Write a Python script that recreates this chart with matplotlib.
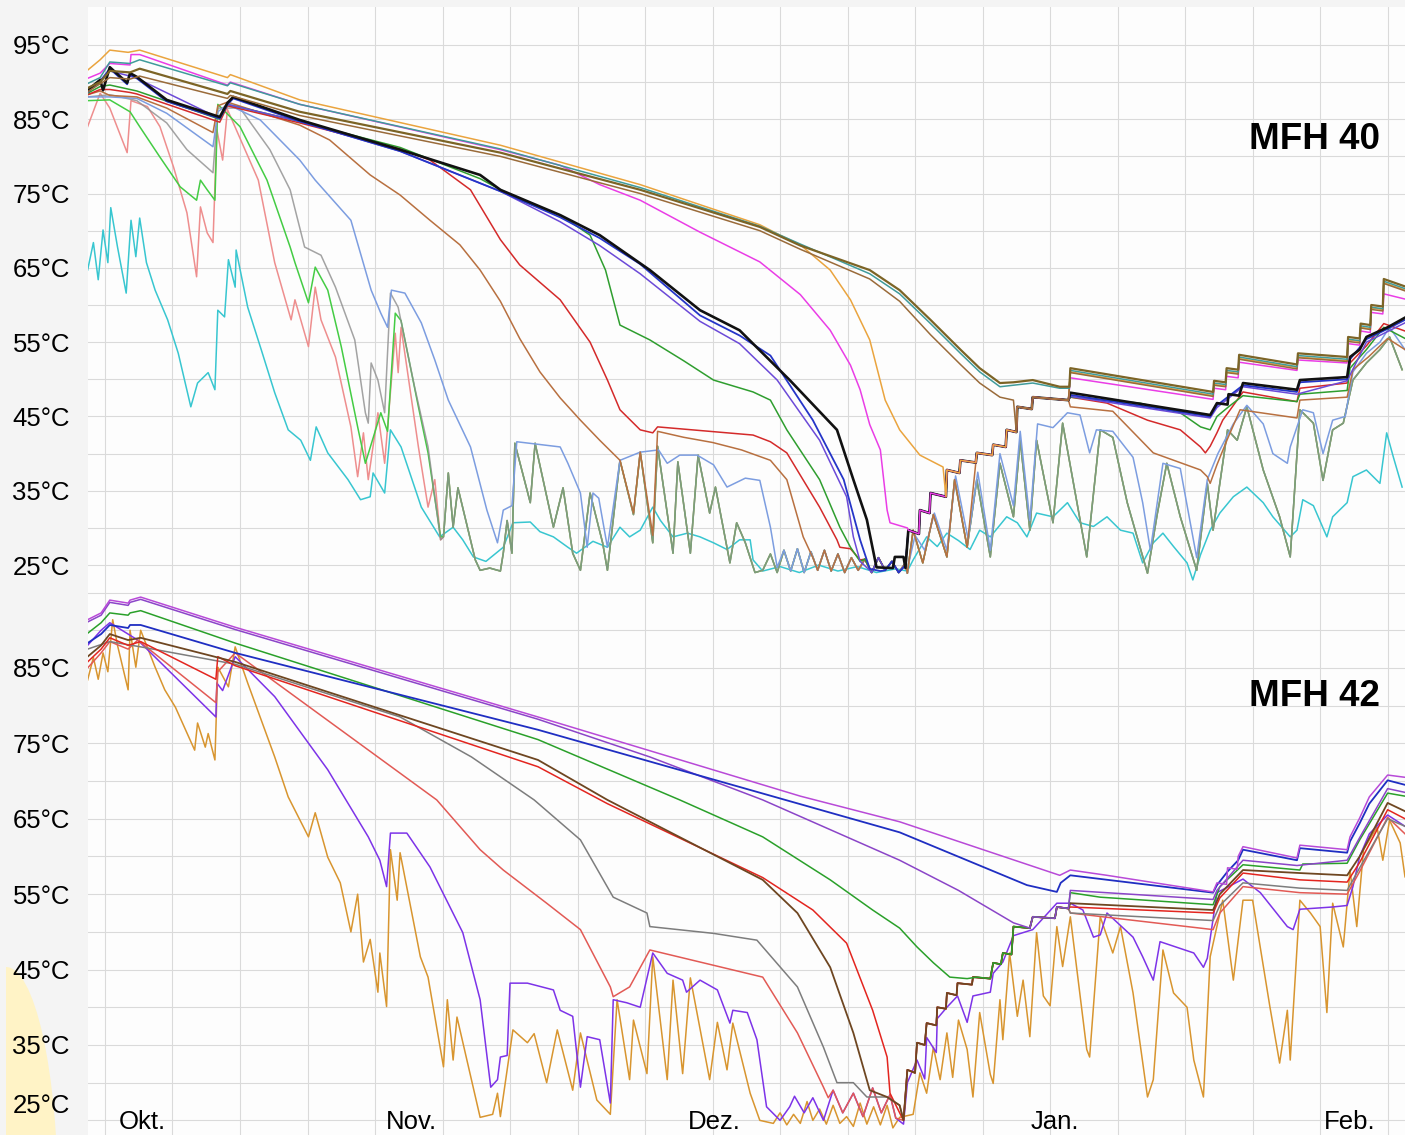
import matplotlib
matplotlib.use("Agg")
import numpy as np
import matplotlib.pyplot as plt
from matplotlib.patches import Ellipse
from matplotlib.transforms import Bbox, TransformedBbox, blended_transform_factory

#____________________________________ MFH 40 (top panel), day / temperature pairs ____________________________________
cyan40_day = [-1.8, -1.2, -0.7, -0.2, 0.3, 0.6, 1.3, 2.2, 2.7, 3.2, 3.6, 4.3, 5.2, 6.5, 7.6, 8.9, 9.6, 10.7, 11.4, 11.7,
              12.4, 12.8, 13.5, 13.6, 14.8, 16.2, 17.6, 19.0, 20.3, 21.3, 21.9, 23.1, 25.2, 26.5, 27.5, 27.8, 29.0, 29.6,
              30.7, 32.8, 34.7, 36.1, 37.1, 38.2, 39.5, 41.3, 42.3, 44.1, 45.1, 46.5, 48.0, 48.9, 50.6, 52.1, 53.4, 54.4,
              55.5, 56.8, 57.6, 58.9, 60.4, 61.7, 63.1, 64.5, 65.8, 66.9, 67.2, 68.2, 70.0, 72.0, 74.0, 76.0, 78.0, 80.0,
              82.0, 83.2, 83.8, 85.2, 86.3, 87.3, 88.5, 89.7, 90.7, 91.8, 93.5, 94.6, 95.6, 96.6, 98.3, 99.8, 101.1,
              102.5, 103.9, 105.3, 106.6, 107.6, 108.7, 109.7, 110.8, 112.2, 112.8, 113.6, 114.6, 115.6, 117.0, 118.4,
              120.1, 121.1, 122.9, 123.6, 124.2, 125.3, 126.7, 127.3, 128.8, 129.4, 130.8, 132.2, 132.9, 133.6, 134.5]
cyan40_temp = [64.7, 68.4, 63.4, 70.1, 65.7, 73.1, 67.8, 61.6, 71.4, 66.5, 71.7, 65.7, 62.0, 58.0, 53.5, 46.3, 49.5, 50.9,
               48.6, 59.3, 58.4, 66.1, 62.4, 67.4, 59.7, 54.0, 48.2, 43.2, 41.8, 39.1, 43.6, 40.1, 36.5, 33.8, 34.2, 37.4,
               34.7, 43.2, 40.9, 32.8, 28.8, 30.1, 28.4, 26.1, 25.5, 27.4, 30.7, 30.8, 29.5, 28.8, 27.4, 26.6, 28.2, 27.4,
               30.1, 28.8, 29.7, 32.8, 31.0, 28.8, 29.3, 28.8, 28.0, 27.1, 28.4, 28.4, 25.7, 24.2, 24.8, 24.0, 25.0, 24.2,
               24.8, 24.0, 24.5, 24.2, 25.7, 28.8, 27.5, 29.3, 28.3, 27.1, 29.7, 28.8, 31.5, 30.7, 28.8, 32.0, 31.5, 33.4,
               30.7, 30.2, 31.5, 29.7, 29.3, 25.3, 28.0, 29.3, 27.5, 25.3, 23.0, 26.4, 29.7, 32.0, 34.2, 35.5, 33.4, 31.5,
               28.8, 29.7, 33.8, 33.0, 28.8, 31.5, 33.4, 36.9, 37.8, 36.0, 42.8, 39.5, 35.5]

# shared sawtooth of the storage tanks that already ran cold
saw40_day = [34.8, 35.1, 35.6, 36.1, 36.6, 38.4, 38.9, 39.9, 41.0, 41.3, 41.7, 42.2, 42.5, 44.1, 44.6, 46.5, 47.5, 48.5,
             49.3, 50.3, 51.6, 52.1, 53.4, 54.8, 55.5, 56.8, 57.3, 58.9, 59.4, 60.7, 61.5, 62.7, 63.3, 64.8, 65.5, 66.4,
             67.4, 68.2, 69.0, 69.7, 70.4, 71.1, 71.8, 72.5, 73.2, 73.9, 74.6, 75.3, 76.0, 76.7, 77.4, 78.1, 78.8, 79.5,
             80.2, 80.9, 81.6, 82.3, 83.0, 83.2, 83.8, 84.8, 85.9, 87.3, 88.1, 89.4, 90.4, 91.8, 92.8, 94.2, 94.9, 95.9,
             96.6, 98.3, 99.3, 101.8, 103.2, 104.5, 106.0, 108.1, 109.1, 110.1, 111.5, 113.2, 114.3, 114.9, 116.4, 117.4,
             118.4, 120.1, 121.8, 122.9, 123.9, 125.3, 126.3, 127.3, 128.4, 129.4, 130.8, 132.2, 133.2, 134.5]
saw40_temp = [28.4, 28.8, 37.4, 30.1, 35.4, 25.7, 24.3, 24.6, 24.2, 26.6, 31.0, 26.6, 41.4, 33.4, 41.4, 30.1, 35.4, 26.6,
              24.3, 34.7, 28.0, 24.3, 39.1, 31.8, 40.2, 28.0, 41.0, 26.6, 38.9, 26.6, 39.8, 32.0, 35.5, 25.3, 30.7, 28.0,
              24.0, 24.3, 26.5, 24.0, 27.0, 24.2, 27.2, 24.0, 26.8, 24.3, 27.0, 24.2, 26.5, 24.0, 26.0, 24.3, 25.8, 24.0,
              26.0, 24.3, 25.5, 24.0, 25.3, 23.9, 29.7, 25.3, 31.8, 26.1, 36.5, 27.4, 36.5, 26.1, 38.7, 31.5, 41.8, 29.7,
              41.8, 30.7, 44.1, 26.1, 43.2, 42.2, 33.4, 23.9, 31.8, 38.7, 31.5, 24.3, 36.0, 29.7, 43.2, 41.8, 46.3, 37.8,
              31.5, 26.1, 45.9, 44.1, 36.4, 43.2, 44.1, 49.9, 52.2, 54.0, 55.7, 51.3]

# shared recharge staircase in late December
stair40_day = [83.0, 83.3, 84.4, 84.5, 85.5, 85.6, 87.2, 87.3, 88.6, 88.7, 90.3, 90.4, 92.0, 92.1, 93.4, 93.5, 94.5, 94.6,
               96.1, 96.2, 99.9]
stair40_temp = [25.0, 29.7, 29.2, 32.4, 32.0, 34.7, 34.2, 37.8, 37.4, 39.1, 38.8, 40.1, 39.8, 41.2, 40.9, 43.2, 42.9, 46.3,
                46.0, 47.6, 47.2]

salmon40_day = [-1.8, -0.5, 0.5, 2.3, 2.7, 4.4, 5.7, 7.1, 8.5, 9.5, 9.9, 10.6, 11.2, 11.6, 12.2, 12.7, 15.9, 17.6, 19.3,
                19.7, 21.1, 21.8, 22.4, 23.9, 25.5, 26.2, 26.8, 27.3, 28.3, 29.0, 30.1, 30.4, 30.7, 32.5, 33.5, 34.2, 34.8]
salmon40_temp = [84.0, 88.5, 86.5, 80.5, 87.5, 86.7, 84.0, 78.6, 72.4, 63.8, 73.2, 69.7, 68.4, 83.6, 79.5, 86.3, 76.8,
                 65.7, 58.0, 60.7, 54.4, 62.4, 58.0, 53.0, 43.6, 36.9, 42.8, 36.5, 45.5, 38.7, 56.2, 50.9, 57.0, 40.9,
                 32.8, 36.5, 28.4]

lightgreen40_day = [-1.8, 0.5, 2.6, 3.6, 5.7, 7.8, 9.5, 9.9, 10.6, 11.4, 11.7, 14.0, 16.8, 19.2, 19.7, 21.1, 21.8, 23.1,
                    24.5, 26.2, 27.0, 28.6, 29.3, 30.1, 30.7, 32.5, 33.5, 34.2, 34.8]
lightgreen40_temp = [87.5, 87.6, 86.0, 84.0, 79.9, 75.9, 74.1, 76.8, 75.5, 74.1, 87.0, 84.0, 76.8, 67.8, 65.7, 60.3, 65.1,
                     62.0, 54.4, 43.6, 38.7, 45.5, 43.0, 58.9, 57.9, 46.3, 40.1, 34.0, 28.8]

gray40_day = [-1.8, 0.5, 3.3, 6.4, 8.5, 11.2, 11.7, 14.0, 17.1, 19.2, 20.7, 22.4, 23.9, 25.9, 27.0, 27.3, 27.6, 28.3,
              29.0, 29.6, 30.4, 32.1, 33.5, 34.8]
gray40_temp = [88.0, 88.3, 87.5, 84.5, 80.9, 77.8, 86.5, 86.5, 80.9, 75.5, 67.8, 66.7, 62.4, 55.3, 45.5, 44.1, 52.2, 49.9,
               45.5, 61.6, 59.7, 49.0, 40.9, 28.4]

lightblue40_day = [-1.8, 0.5, 3.3, 6.4, 11.2, 11.7, 12.7, 16.1, 20.2, 21.8, 25.5, 27.6, 28.6, 29.3, 29.7, 31.1, 32.8,
                   34.2, 35.6, 37.9, 39.6, 40.7, 41.3, 42.2, 42.7, 47.2, 48.0, 49.3, 50.0, 50.6, 51.2, 52.1, 53.4, 55.5,
                   57.4, 58.3, 59.6, 61.4, 63.1, 64.5, 66.4, 67.9, 69.0, 69.7]
lightblue40_temp = [88.0, 88.0, 87.8, 85.8, 81.3, 86.0, 87.0, 84.9, 79.5, 76.8, 71.4, 62.0, 58.9, 57.0, 62.0, 61.6, 57.6,
                    52.6, 47.2, 40.9, 32.4, 28.0, 32.4, 33.0, 41.6, 40.9, 38.7, 34.7, 27.4, 34.7, 34.0, 27.4, 39.1, 40.2,
                    40.5, 38.7, 39.8, 39.8, 38.5, 35.5, 36.7, 36.4, 30.1, 24.7]
lb40post_day = [83.3, 84.0, 85.0, 86.0, 87.3, 88.2, 89.5, 90.5, 91.8, 92.8, 94.2, 94.9, 95.9, 96.7, 98.3, 99.8, 101.1,
                102.1, 102.8, 104.5, 106.6, 107.6, 108.4, 109.7, 111.5, 113.2, 114.3, 115.4, 117.0, 118.4, 120.1, 121.1,
                122.6, 122.9, 124.2, 125.3, 126.3, 127.3, 128.6, 129.4, 130.8, 132.2, 133.2, 134.8]
lb40post_temp = [25.0, 29.0, 27.0, 32.0, 27.0, 37.0, 28.5, 37.5, 27.0, 40.0, 33.0, 43.0, 31.0, 44.0, 43.5, 45.5, 45.2,
                 40.1, 43.2, 43.0, 39.5, 33.4, 27.0, 38.7, 38.0, 26.0, 36.5, 40.0, 44.0, 46.5, 44.0, 40.0, 38.7, 40.9,
                 45.9, 45.5, 40.0, 44.5, 45.0, 51.0, 53.5, 55.0, 57.0, 54.0]

sienna40_day = [-1.8, -0.5, 0.5, 3.3, 6.4, 11.2, 11.7, 12.7, 20.2, 23.3, 27.5, 30.6, 33.7, 36.8, 38.9, 41.0, 43.0, 45.1,
                47.2, 49.3, 51.3, 53.4, 54.8, 55.5, 56.8, 57.3, 60.0, 63.0, 66.0, 69.0, 70.7, 72.4, 73.4]
sienna40_temp = [88.3, 88.8, 88.2, 88.0, 86.5, 83.2, 86.8, 87.3, 84.2, 82.2, 77.5, 74.8, 71.4, 68.1, 64.7, 60.5, 55.5,
                 51.0, 47.5, 44.5, 41.8, 39.1, 32.0, 40.2, 29.0, 43.0, 42.2, 41.5, 40.5, 39.1, 36.5, 28.8, 26.0]
sn40post_day = [100.1, 104.5, 108.7, 113.6, 114.3, 114.6, 115.3, 116.4, 117.7, 123.6, 123.9, 128.8, 129.4, 131.0, 133.0,
                134.8]
sn40post_temp = [46.3, 45.7, 40.1, 37.8, 36.9, 36.0, 38.5, 42.0, 45.9, 44.8, 47.2, 47.6, 51.3, 53.0, 55.5, 54.0]

red40_day = [-1.8, -0.5, 0.5, 2.6, 3.3, 11.9, 12.7, 20.2, 30.6, 33.7, 37.9, 41.0, 43.0, 47.2, 50.3, 52.1, 53.4, 55.5,
             56.8, 57.3, 67.2, 69.0, 70.7, 74.1, 75.9, 76.2, 77.3, 78.3]
red40_temp = [88.3, 89.0, 89.0, 88.6, 88.4, 84.6, 86.8, 84.5, 81.0, 79.5, 75.5, 68.8, 65.4, 60.7, 55.0, 49.9, 45.9, 43.2,
              42.8, 43.6, 42.5, 41.6, 40.1, 32.8, 28.4, 27.4, 27.2, 25.7]
rd40post_day = [100.1, 103.9, 108.1, 111.5, 113.6, 114.1, 114.6, 115.3, 115.9, 118.0, 123.6, 123.9, 128.8, 129.1, 130.8,
                132.6, 134.8]
rd40post_temp = [47.6, 46.8, 44.5, 43.2, 40.9, 40.1, 41.0, 42.8, 44.5, 48.3, 47.0, 48.8, 49.5, 52.2, 54.5, 57.5, 56.5]

green40_day = [-1.8, -0.5, 0.5, 2.6, 3.3, 11.9, 12.7, 20.2, 30.6, 38.9, 43.0, 47.2, 50.3, 51.9, 53.4, 56.5, 60.0, 63.1,
               67.2, 69.0, 70.7, 74.1, 76.2, 77.3, 78.3]
green40_temp = [88.5, 89.4, 89.6, 89.0, 88.8, 85.0, 87.0, 84.7, 81.2, 77.0, 74.1, 72.1, 69.4, 64.7, 57.3, 55.3, 52.5,
                49.9, 48.3, 47.2, 43.2, 36.5, 30.1, 27.4, 25.5]
gr40post_day = [100.1, 107.3, 111.5, 113.6, 114.6, 115.3, 116.6, 118.0, 123.6, 123.9, 128.8, 129.1, 130.8, 132.6, 134.8]
gr40post_temp = [47.6, 46.8, 45.5, 43.6, 43.2, 45.0, 46.4, 47.8, 47.0, 48.0, 48.5, 51.5, 54.0, 57.0, 55.5]

violet40_day = [-1.8, 0.5, 2.6, 3.3, 11.9, 12.7, 20.2, 30.6, 41.0, 47.2, 51.3, 55.5, 61.7, 65.8, 69.7, 74.1, 76.9, 77.6,
                78.3, 79.3]
violet40_temp = [88.6, 91.5, 90.8, 90.5, 85.1, 87.0, 84.7, 80.7, 75.3, 71.2, 68.0, 64.2, 57.8, 54.8, 49.9, 41.8, 34.2,
                 28.8, 25.5, 24.3]
vi40post_day = [100.1, 114.6, 115.3, 118.0, 123.6, 128.8, 130.8, 134.8]
vi40post_temp = [47.7, 44.8, 46.2, 49.0, 48.0, 49.8, 55.0, 57.6]

blue40_day = [-1.8, -0.5, 0.5, 2.3, 2.6, 3.3, 6.4, 11.9, 12.7, 13.3, 20.2, 30.6, 41.0, 47.2, 51.3, 55.5, 61.7, 65.8,
              69.0, 73.4, 76.6, 78.3, 79.3, 80.4]
blue40_temp = [88.7, 90.1, 91.8, 89.7, 91.0, 90.5, 87.4, 85.1, 87.0, 87.8, 84.7, 80.7, 75.3, 71.8, 69.0, 65.5, 58.6, 55.9,
               53.2, 44.5, 36.5, 28.4, 24.5, 24.2]
bl40post_day = [100.1, 114.6, 115.3, 118.0, 123.6, 123.9, 128.8, 129.1, 130.8, 133.0, 134.8]
bl40post_temp = [47.9, 45.0, 46.5, 49.2, 48.3, 49.6, 50.0, 52.7, 55.4, 56.8, 58.0]

black40_day = [-1.8, -0.5, -0.2, 0.5, 2.3, 2.6, 3.3, 6.4, 11.9, 12.7, 13.3, 20.2, 30.6, 38.9, 41.0, 47.2, 51.3, 56.5,
               61.7, 65.8, 71.0, 75.9, 77.6, 79.0, 80.0, 81.7, 81.9, 82.8, 83.0]
black40_temp = [88.9, 90.3, 88.9, 92.0, 89.9, 91.2, 90.7, 87.6, 85.3, 87.2, 88.0, 84.9, 80.9, 77.5, 75.5, 72.1, 69.4,
                64.7, 59.3, 56.6, 49.9, 43.2, 36.5, 31.1, 24.7, 24.6, 26.1, 26.1, 24.6]
bk40post_day = [100.1, 114.6, 115.3, 116.4, 116.5, 117.6, 118.0, 123.6, 123.9, 128.8, 129.1, 130.1, 130.8, 133.0, 134.8]
bk40post_temp = [48.2, 45.2, 46.8, 46.6, 48.0, 47.8, 49.5, 48.6, 49.9, 50.3, 53.0, 54.0, 55.7, 57.0, 58.3]

magenta40_day = [-1.8, -0.5, 0.5, 2.6, 2.7, 3.6, 12.7, 13.0, 20.2, 41.0, 47.2, 51.3, 55.5, 61.7, 67.9, 72.1, 75.2, 77.3,
                 78.3, 79.3, 80.4, 81.1, 81.4, 83.2]
magenta40_temp = [90.5, 91.2, 92.5, 92.3, 93.7, 93.7, 89.6, 90.0, 87.0, 80.9, 78.8, 76.2, 74.1, 69.8, 65.8, 61.4, 56.6,
                  51.9, 48.6, 43.9, 40.5, 32.4, 30.7, 30.0]
mg40post_day = [100.1, 114.9, 115.0, 116.2, 116.3, 117.5, 117.6, 123.6, 123.7, 128.8, 128.9, 130.1, 130.2, 131.2, 131.3,
                132.5, 132.6, 134.8]
mg40post_temp = [50.2, 47.3, 48.8, 48.6, 50.4, 50.2, 52.3, 51.2, 52.6, 52.2, 54.8, 54.6, 56.5, 56.3, 59.0, 58.8, 61.5,
                 60.8]

orange40_day = [-1.8, -0.5, 0.5, 2.4, 3.6, 12.7, 13.0, 20.2, 41.0, 55.5, 61.7, 67.9, 70.0, 72.1, 75.2, 77.3, 79.3, 80.9,
                82.4, 84.5, 86.9]
orange40_temp = [91.6, 93.0, 94.3, 94.0, 94.3, 90.6, 91.0, 87.6, 81.5, 76.2, 73.5, 70.8, 69.4, 68.1, 64.7, 60.7, 55.3,
                 47.2, 43.2, 39.8, 38.2]
or40post_day = [100.1, 114.9, 115.0, 116.2, 116.3, 117.5, 117.6, 123.6, 123.7, 128.8, 128.9, 130.1, 130.2, 131.2, 131.3,
                132.5, 132.6, 134.8]
or40post_temp = [51.0, 47.8, 49.3, 49.1, 51.0, 50.8, 52.8, 51.6, 53.0, 52.5, 55.3, 55.1, 57.0, 56.8, 59.6, 59.4, 63.0,
                 62.0]

olive40_day = [-1.8, -0.5, 0.5, 2.6, 3.6, 12.7, 13.0, 20.2, 41.0, 55.5, 61.7, 67.9, 72.1, 79.3, 82.4, 85.6, 88.7, 90.7,
               92.8, 94.2, 96.2, 99.0, 100.0]
olive40_temp = [89.2, 90.0, 91.5, 91.3, 91.8, 88.4, 88.8, 86.0, 80.5, 75.5, 73.0, 70.5, 68.0, 64.7, 62.0, 58.0, 54.0,
                51.5, 49.5, 49.6, 49.9, 49.0, 49.0]
ol40post_day = [100.1, 114.9, 115.0, 116.2, 116.3, 117.5, 117.6, 123.6, 123.7, 128.8, 128.9, 130.1, 130.2, 131.2, 131.3,
                132.5, 132.6, 134.8]
ol40post_temp = [51.5, 48.3, 49.8, 49.6, 51.5, 51.3, 53.3, 52.0, 53.5, 53.0, 55.7, 55.5, 57.5, 57.3, 60.0, 59.8, 63.5,
                 62.5]

teal40_day = [-1.8, -0.5, 0.5, 2.6, 3.6, 12.7, 13.0, 20.2, 41.0, 55.5, 61.7, 67.9, 72.1, 79.3, 82.4, 85.6, 88.7, 90.7,
              92.8, 96.2, 99.0, 100.0]
teal40_temp = [89.8, 90.6, 92.7, 92.5, 93.0, 89.5, 89.9, 87.0, 81.0, 75.8, 73.2, 70.6, 68.2, 64.2, 61.5, 57.5, 53.5,
               51.0, 49.0, 49.5, 48.8, 48.8]
te40post_temp = [51.2, 48.0, 49.5, 49.3, 51.2, 51.0, 53.0, 51.7, 53.2, 52.7, 55.4, 55.2, 57.2, 57.0, 59.7, 59.5, 63.2,
                 62.2]

brown40_day = [-1.8, 0.5, 2.6, 3.6, 12.7, 13.0, 20.2, 41.0, 55.5, 61.7, 67.9, 72.1, 79.3, 82.4, 85.6, 88.7, 90.7, 92.8,
               94.2]
brown40_temp = [88.7, 90.6, 90.4, 90.8, 87.8, 88.2, 85.5, 80.0, 75.0, 72.5, 70.0, 67.5, 63.5, 60.5, 56.0, 52.0, 49.5,
                47.6, 47.2]
br40post_temp = [50.9, 47.7, 49.2, 49.0, 50.9, 50.7, 52.7, 51.4, 52.9, 52.4, 55.1, 54.9, 56.9, 56.7, 59.4, 59.2, 62.9,
                 61.9]

#____________________________________ MFH 42 (bottom panel) ____________________________________
orchid42_day = [-1.8, -0.4, 0.5, 2.4, 2.6, 3.7, 13.5, 44.9, 72.1, 82.4, 99.0, 100.1, 103.9, 114.9, 115.3, 116.3, 116.4,
                117.4, 117.5, 118.0, 123.6, 123.9, 128.8, 129.1, 130.1, 131.1, 133.0, 134.8]
orchid42_temp = [91.4, 92.3, 94.0, 93.6, 94.0, 94.4, 90.4, 78.5, 68.0, 64.6, 57.5, 58.2, 57.5, 55.3, 56.5, 56.3, 58.5,
                 58.3, 60.0, 61.3, 59.8, 61.5, 60.9, 62.6, 65.1, 67.9, 70.8, 70.5]

purple42_day = [-1.8, -0.4, 0.5, 2.4, 2.6, 3.7, 13.5, 44.9, 56.5, 68.2, 82.4, 88.5, 94.2]
purple42_temp = [91.1, 92.0, 93.7, 93.3, 93.7, 94.1, 90.1, 78.2, 73.2, 67.5, 59.5, 55.5, 51.2]
pu42post_day = [100.1, 114.9, 115.3, 118.0, 123.6, 128.8, 130.1, 133.0, 134.8]
pu42post_temp = [55.5, 54.3, 55.5, 59.5, 58.8, 59.5, 62.5, 69.0, 68.5]

blue42_day = [-1.8, -0.4, 0.5, 2.4, 2.6, 3.7, 13.5, 44.9, 82.4, 95.6, 98.7, 99.1, 100.1, 114.9, 115.3, 116.4, 117.5,
              118.0, 123.6, 123.9, 128.8, 129.1, 130.1, 131.1, 133.0, 134.8]
blue42_temp = [88.3, 89.5, 90.7, 90.3, 90.7, 90.7, 87.0, 76.8, 63.2, 56.2, 55.3, 56.5, 57.5, 55.2, 56.2, 58.0, 59.5,
               60.9, 59.5, 61.1, 60.5, 62.0, 64.4, 67.0, 70.1, 69.5]

green42_day = [-1.8, -0.4, 0.5, 2.4, 2.6, 3.7, 13.5, 44.9, 59.6, 68.2, 75.2, 79.6, 82.4, 84.2, 85.9, 87.6, 89.4, 90.4]
green42_temp = [89.6, 91.0, 92.3, 92.0, 92.3, 92.6, 88.3, 75.5, 67.5, 62.6, 56.9, 52.9, 50.5, 48.0, 45.9, 44.0, 43.8,
                44.0]
gn42post_day = [100.1, 103.2, 114.9, 115.6, 118.0, 123.9, 124.2, 128.8, 130.1, 133.0, 134.8]
gn42post_temp = [55.2, 54.6, 53.6, 56.0, 58.9, 58.2, 59.0, 59.1, 62.2, 68.4, 68.0]

brown42_day = [-1.8, -0.4, 0.5, 2.4, 3.7, 13.5, 44.9, 52.1, 68.2, 71.8, 75.2, 77.6, 79.3, 81.1, 82.4]
brown42_temp = [86.5, 88.0, 89.5, 88.7, 89.0, 85.8, 72.8, 67.5, 56.9, 52.5, 45.3, 36.6, 29.0, 28.1, 27.0]
bn42post_day = [100.1, 114.9, 115.6, 118.0, 123.9, 128.8, 130.1, 133.0, 134.8]
bn42post_temp = [53.8, 52.9, 55.0, 58.2, 57.8, 57.5, 60.0, 67.1, 66.0]

red42_day = [-1.8, -0.4, 0.5, 2.4, 3.7, 11.5, 11.7, 13.5, 44.9, 52.1, 68.2, 73.4, 76.9, 79.6, 81.1, 81.4, 82.4]
red42_temp = [85.8, 87.5, 89.0, 88.0, 88.5, 83.5, 86.5, 85.3, 71.9, 67.0, 57.2, 52.9, 48.5, 39.6, 33.4, 28.6, 26.0]
rd42post_day = [100.1, 114.9, 115.6, 118.0, 123.9, 128.8, 130.1, 133.0, 134.8]
rd42post_temp = [53.3, 52.5, 54.5, 57.8, 56.9, 56.6, 59.2, 66.2, 65.0]

gray42_day = [-1.8, 0.5, 3.7, 13.5, 30.6, 38.0, 44.5, 49.3, 52.7, 56.2, 56.5, 63.1, 67.6, 71.8, 74.5, 75.9, 77.6, 79.0,
              81.1, 82.4]
gray42_temp = [87.5, 88.5, 87.8, 85.5, 78.5, 73.2, 67.5, 62.2, 54.6, 52.5, 50.7, 49.8, 48.9, 42.7, 34.7, 30.0, 30.0, 28.1,
               28.1, 27.0]
gy42post_day = [100.1, 114.9, 115.6, 118.0, 123.9, 128.8, 130.1, 133.0, 134.8]
gy42post_temp = [52.5, 51.5, 53.5, 56.5, 55.8, 55.5, 58.5, 65.0, 64.0]

salmonred42_day = [-1.8, -0.4, 0.5, 2.4, 3.4, 11.5, 11.7, 13.5, 34.4, 38.9, 41.3, 45.8, 49.3, 52.4, 52.7, 54.4, 56.5,
                   68.2, 71.8, 74.5, 75.0]
salmonred42_temp = [85.0, 87.0, 88.5, 87.5, 88.7, 80.4, 84.5, 87.0, 67.5, 60.9, 58.2, 53.8, 50.3, 42.7, 41.4, 42.7, 47.6,
                    44.0, 36.6, 29.4, 28.0]
sr42post_day = [100.1, 114.9, 115.6, 118.0, 123.9, 128.8, 130.1, 133.0, 134.8]
sr42post_temp = [52.5, 50.3, 52.5, 56.0, 55.2, 55.0, 58.0, 65.2, 63.0]

violet42_day = [-1.8, -0.4, 0.5, 3.4, 11.5, 11.6, 12.2, 13.5, 17.6, 23.1, 27.3, 28.5, 29.2, 29.6, 31.3, 33.7, 37.1, 38.9,
                40.0, 40.7, 41.0, 41.7, 42.0, 43.8, 46.5, 47.2, 48.5, 49.3, 50.0, 51.3, 52.4, 52.7, 54.1, 55.5, 56.8,
                58.3, 59.9, 60.3, 61.7, 63.5, 64.8, 65.1, 66.6, 67.6, 68.6, 70.0, 71.0]
violet42_temp = [88.0, 90.0, 91.0, 88.7, 78.5, 83.0, 82.0, 86.5, 81.2, 71.5, 62.6, 59.5, 56.0, 63.1, 63.1, 58.6, 49.9,
                 41.0, 29.4, 30.4, 33.4, 33.6, 43.2, 43.2, 42.3, 39.6, 38.8, 29.4, 36.1, 35.7, 27.3, 41.0, 40.6, 40.0,
                 47.2, 44.5, 43.6, 42.0, 43.6, 42.3, 37.9, 39.6, 39.3, 35.7, 26.8, 25.0, 26.8]
vi42post_day = [83.2, 84.2, 85.0, 85.2, 86.2, 86.3, 87.3, 88.4, 89.4, 90.0, 91.8, 92.1, 93.1, 94.2, 96.2, 98.7, 100.1,
                101.4, 102.5, 103.2, 103.9, 106.6, 107.6, 108.7, 109.4, 112.9, 113.9, 114.3, 115.3, 118.0, 119.8, 122.6,
                123.2, 123.9, 127.3, 128.8, 129.4, 130.1, 131.1, 133.0, 134.8]
vi42post_temp = [30.0, 33.0, 30.5, 36.0, 34.0, 38.5, 40.0, 41.5, 38.0, 41.5, 42.0, 44.5, 46.0, 49.5, 50.3, 53.8, 53.8,
                 52.9, 49.3, 49.6, 52.5, 49.3, 46.7, 43.6, 48.7, 47.2, 45.3, 46.5, 55.2, 57.0, 55.2, 50.7, 50.3, 53.0,
                 53.3, 53.5, 56.0, 60.0, 63.0, 65.5, 64.0]

orange42_day = [-1.8, -1.2, -0.7, -0.2, 0.3, 0.8, 1.3, 2.4, 2.6, 3.2, 3.7, 5.2, 6.2, 7.3, 9.3, 9.6, 10.4, 10.7, 11.4,
                11.7, 12.8, 13.5, 14.8, 17.6, 19.0, 21.1, 21.8, 23.1, 24.4, 25.5, 26.2, 26.8, 27.5, 28.3, 28.5, 29.2,
                29.6, 30.3, 30.6, 32.7, 33.5, 35.1, 35.5, 36.1, 36.5, 38.9, 40.2, 40.7, 41.0, 42.3, 43.8, 44.5, 45.8,
                46.9, 48.5, 49.3, 51.0, 52.4, 53.1, 54.4, 54.8, 56.2, 56.8, 58.3, 58.9, 59.9, 60.7, 62.7, 63.5, 64.5,
                65.1, 66.9, 67.9, 69.3]
orange42_temp = [83.4, 86.4, 83.5, 87.0, 84.5, 91.4, 88.0, 82.1, 90.0, 85.1, 90.0, 85.1, 82.1, 79.8, 74.1, 77.7, 74.5,
                 76.3, 72.8, 85.1, 82.5, 87.8, 83.0, 73.2, 67.9, 62.6, 65.8, 59.9, 56.5, 50.0, 55.0, 46.0, 49.0, 42.0,
                 47.2, 40.1, 60.9, 54.2, 60.5, 46.7, 44.0, 32.1, 41.0, 33.0, 38.7, 25.4, 25.8, 28.6, 25.5, 37.0, 35.3,
                 36.5, 30.0, 37.0, 29.0, 36.6, 27.7, 25.8, 41.0, 30.4, 38.3, 31.2, 46.7, 30.4, 43.6, 31.2, 43.9, 30.4,
                 38.0, 31.7, 37.9, 28.6, 25.0, 24.6]
or42post_day = [83.8, 84.5, 85.2, 85.9, 86.6, 87.3, 87.9, 88.5, 89.4, 90.0, 90.7, 91.8, 92.1, 92.8, 93.1, 93.8, 94.6,
                95.2, 95.9, 96.6, 97.3, 98.0, 98.7, 99.3, 100.1, 101.8, 102.1, 103.2, 104.5, 105.3, 106.6, 108.1, 108.7,
                109.7, 110.8, 112.2, 112.9, 113.9, 114.6, 115.9, 117.0, 118.0, 119.0, 120.8, 121.8, 122.6, 122.9, 123.9,
                125.0, 126.0, 126.7, 127.3, 128.4, 129.1, 129.8, 130.5, 131.9, 132.5, 133.2, 134.3, 134.8]
or42post_temp = [25.8, 31.3, 28.6, 34.7, 30.4, 36.6, 30.7, 38.3, 34.4, 28.1, 39.3, 31.1, 29.9, 41.0, 35.7, 47.2, 38.8,
                 43.6, 36.1, 49.9, 41.5, 40.2, 50.7, 45.4, 52.0, 34.4, 33.4, 52.0, 47.2, 50.7, 41.9, 28.1, 30.4, 47.6,
                 41.9, 40.0, 33.0, 28.1, 46.7, 54.2, 43.6, 54.2, 54.2, 40.0, 32.6, 39.6, 33.0, 54.2, 52.5, 50.7, 39.3,
                 53.8, 48.0, 58.2, 50.7, 60.9, 63.9, 59.5, 64.8, 61.8, 57.3]

low42_day = [70.0, 70.7, 71.4, 72.1, 72.8, 73.4, 74.1, 74.8, 75.5, 76.2, 76.9, 77.6, 78.3, 79.0, 79.7, 80.4, 81.1, 81.7,
             82.4]
low42_temp = [26.0, 24.4, 25.8, 24.6, 27.5, 25.0, 26.5, 24.5, 27.0, 24.6, 25.5, 24.2, 27.3, 24.5, 26.8, 24.4, 27.0, 24.0,
              25.4]
low42b_day = [71.5, 72.5, 73.4, 74.5, 75.5, 76.5, 77.6, 78.6, 79.6, 80.5, 81.4, 82.0, 82.8]
low42b_temp = [28.2, 26.0, 28.0, 25.0, 29.0, 26.0, 28.6, 25.5, 29.3, 26.0, 28.4, 25.3, 24.5]

stair42_day = [82.8, 83.2, 84.0, 84.2, 85.0, 85.2, 86.2, 86.3, 87.2, 87.3, 88.3, 88.4, 89.9, 90.0, 91.8, 92.1, 92.9,
               93.1, 94.0, 94.2, 95.9, 96.2, 98.5, 98.7, 99.9]
stair42_temp = [25.0, 31.7, 31.3, 35.3, 35.0, 37.9, 37.6, 40.0, 39.8, 41.9, 41.6, 43.2, 43.0, 44.0, 43.8, 45.9, 45.7,
                47.2, 47.0, 50.7, 50.5, 52.0, 51.8, 53.3, 53.1]

month_days = [3.9, 31.8, 63.2, 98.5, 129.1]
month_labels = ["Okt.", "Nov.", "Dez.", "Jan.", "Feb."]


#____________________________________ helpers ____________________________________
def seg(days, temps, lo=-99.0, hi=999.0):
    return [(d, t) for d, t in zip(days, temps) if lo < d < hi]


def trace(*parts):
    pts = [p for part in parts for p in part]
    return [p[0] for p in pts], [p[1] for p in pts]


plt.rcParams["font.family"] = ["Liberation Sans", "DejaVu Sans"]

W, H = 1405, 1135
fig = plt.figure(figsize=(W / 100, H / 100), dpi=100, facecolor="#f4f4f4")
ax1 = fig.add_axes([88 / W, 545 / H, 1317 / W, 583 / H])
ax2 = fig.add_axes([88 / W, 0, 1317 / W, 545 / H])

for ax in (ax1, ax2):
    ax.set_facecolor("#fdfdfd")
    for s in ax.spines.values():
        s.set_visible(False)
    ax.set_xlim(-1.76, 134.8)
    ax.set_xticks(np.arange(0, 135, 7))
    ax.grid(True, color="#dadada", lw=0.8)
    ax.set_axisbelow(True)
    ax.tick_params(length=0, labelbottom=False, labelsize=18.5, pad=13)

ax1.set_ylim(21.65, 100.1)
ticks = np.arange(25, 100, 5)
ax1.set_yticks(ticks)
ax1.set_yticklabels([f"{v}°C" if v % 10 == 5 else "" for v in ticks])

ax2.set_ylim(23.06, 95.34)
ticks2 = np.arange(25, 96, 5)
ax2.set_yticks(ticks2)
ax2.set_yticklabels([f"{v}°C" if (v % 10 == 5 and 35 <= v <= 85) else "" for v in ticks2])
ax2.text(-18 / 1317, 26.9, "25°C", transform=blended_transform_factory(ax2.transAxes, ax2.transData),
         ha="right", va="center", fontsize=18.5)

#____________________________________ MFH 40 lines ____________________________________
lw = 1.1
ax1.plot(*trace(seg(cyan40_day, cyan40_temp)), color="#38c6d0", lw=lw)
ax1.plot(*trace(seg(salmon40_day, salmon40_temp), seg(saw40_day, saw40_temp, 34.8)), color="#ee8e8e", lw=lw)
ax1.plot(*trace(seg(lightgreen40_day, lightgreen40_temp), seg(saw40_day, saw40_temp, 34.8)), color="#44cc44", lw=lw)
ax1.plot(*trace(seg(gray40_day, gray40_temp), seg(saw40_day, saw40_temp, 34.8)), color="#8d8d8d", lw=lw, alpha=0.8)
ax1.plot(*trace(seg(lightblue40_day, lightblue40_temp), seg(saw40_day, saw40_temp, 69.7, 83.25),
                seg(lb40post_day, lb40post_temp)), color="#7c9de0", lw=lw)
ax1.plot(*trace(seg(sienna40_day, sienna40_temp), seg(saw40_day, saw40_temp, 73.4, 90.3),
                seg(stair40_day, stair40_temp, 90.35, 100), seg(sn40post_day, sn40post_temp)), color="#b87040", lw=lw)
ax1.plot(*trace(seg(red40_day, red40_temp), seg(saw40_day, saw40_temp, 78.3, 82.95),
                seg(stair40_day, stair40_temp, 82.95, 100), seg(rd40post_day, rd40post_temp)), color="#d42a2a", lw=lw)
ax1.plot(*trace(seg(green40_day, green40_temp), seg(saw40_day, saw40_temp, 78.3, 82.95),
                seg(stair40_day, stair40_temp, 82.95, 100), seg(gr40post_day, gr40post_temp)), color="#2f9e2f", lw=lw)
ax1.plot(*trace(seg(violet40_day, violet40_temp), seg(saw40_day, saw40_temp, 79.3, 82.95),
                seg(stair40_day, stair40_temp, 82.95, 100), seg(vi40post_day, vi40post_temp)), color="#6c4ad8", lw=lw)
ax1.plot(*trace(seg(blue40_day, blue40_temp), seg(saw40_day, saw40_temp, 80.4, 82.95),
                seg(stair40_day, stair40_temp, 82.95, 100), seg(bl40post_day, bl40post_temp)), color="#2535c8", lw=1.3)
ax1.plot(*trace(seg(black40_day, black40_temp), seg(stair40_day, stair40_temp, 83.0, 100),
                seg(bk40post_day, bk40post_temp)), color="#111111", lw=1.9)
ax1.plot(*trace(seg(magenta40_day, magenta40_temp), seg(stair40_day, stair40_temp, 83.2, 100),
                seg(mg40post_day, mg40post_temp)), color="#ea3de6", lw=lw)
ax1.plot(*trace(seg(orange40_day, orange40_temp), seg(stair40_day, stair40_temp, 86.9, 100),
                seg(or40post_day, or40post_temp)), color="#eaa43e", lw=lw)
ax1.plot(*trace(seg(brown40_day, brown40_temp), seg(stair40_day, stair40_temp, 94.2, 100),
                seg(ol40post_day, br40post_temp)), color="#9a6b3a", lw=lw)
ax1.plot(*trace(seg(teal40_day, teal40_temp), seg(ol40post_day, te40post_temp)), color="#3f9b9b", lw=lw)
ax1.plot(*trace(seg(olive40_day, olive40_temp), seg(ol40post_day, ol40post_temp)), color="#7c6426", lw=1.6)

#____________________________________ MFH 42 lines ____________________________________
ax2.plot(*trace(seg(orange42_day, orange42_temp), seg(low42_day, low42_temp, 69.3, 83),
                seg(or42post_day, or42post_temp)), color="#d8952f", lw=lw)
ax2.plot(*trace(seg(violet42_day, violet42_temp), seg(low42b_day, low42b_temp, 71.0, 82.9),
                seg(vi42post_day, vi42post_temp)), color="#7d33e8", lw=lw)
ax2.plot(*trace(seg(salmonred42_day, salmonred42_temp), seg(low42b_day, low42b_temp, 75.0, 82.7),
                seg(stair42_day, stair42_temp, 82.7, 100), seg(sr42post_day, sr42post_temp)), color="#e25a55", lw=lw)
ax2.plot(*trace(seg(gray42_day, gray42_temp), seg(stair42_day, stair42_temp, 82.4, 100),
                seg(gy42post_day, gy42post_temp)), color="#7d7d7d", lw=lw)
ax2.plot(*trace(seg(red42_day, red42_temp), seg(stair42_day, stair42_temp, 82.4, 100),
                seg(rd42post_day, rd42post_temp)), color="#e3251f", lw=lw)
ax2.plot(*trace(seg(brown42_day, brown42_temp), seg(stair42_day, stair42_temp, 82.4, 100),
                seg(bn42post_day, bn42post_temp)), color="#6e4621", lw=1.3)
ax2.plot(*trace(seg(green42_day, green42_temp), seg(stair42_day, stair42_temp, 90.4, 100),
                seg(gn42post_day, gn42post_temp)), color="#2aa02a", lw=lw)
ax2.plot(*trace(seg(purple42_day, purple42_temp), seg(stair42_day, stair42_temp, 94.2, 100),
                seg(pu42post_day, pu42post_temp)), color="#8b45c8", lw=lw)
ax2.plot(*trace(seg(blue42_day, blue42_temp)), color="#1f2ec2", lw=1.3)
ax2.plot(*trace(seg(orchid42_day, orchid42_temp)), color="#b84ad8", lw=lw)

# labels
ax1.text(0.981, 0.772, "MFH 40", transform=ax1.transAxes, ha="right", va="center",
         fontsize=26.5, fontweight="bold")
ax2.text(0.981, 0.804, "MFH 42", transform=ax2.transAxes, ha="right", va="center",
         fontsize=26.5, fontweight="bold")
month_tf = blended_transform_factory(ax2.transData, ax2.transAxes)
for d, lab in zip(month_days, month_labels):
    ax2.text(d, 0.024, lab, transform=month_tf, ha="center", va="center", fontsize=18.5)

# pale yellow shape in the lower left corner
blob = Ellipse((6 / W, -65 / H), 104 / W, 466 / H, transform=fig.transFigure,
               facecolor="#fff3c6", edgecolor="none", zorder=-1)
blob.set_clip_box(TransformedBbox(Bbox.from_bounds(6 / W, 0, 80 / W, 0.3), fig.transFigure))
fig.add_artist(blob)

fig.savefig("out.png", dpi=100, facecolor=fig.get_facecolor())
